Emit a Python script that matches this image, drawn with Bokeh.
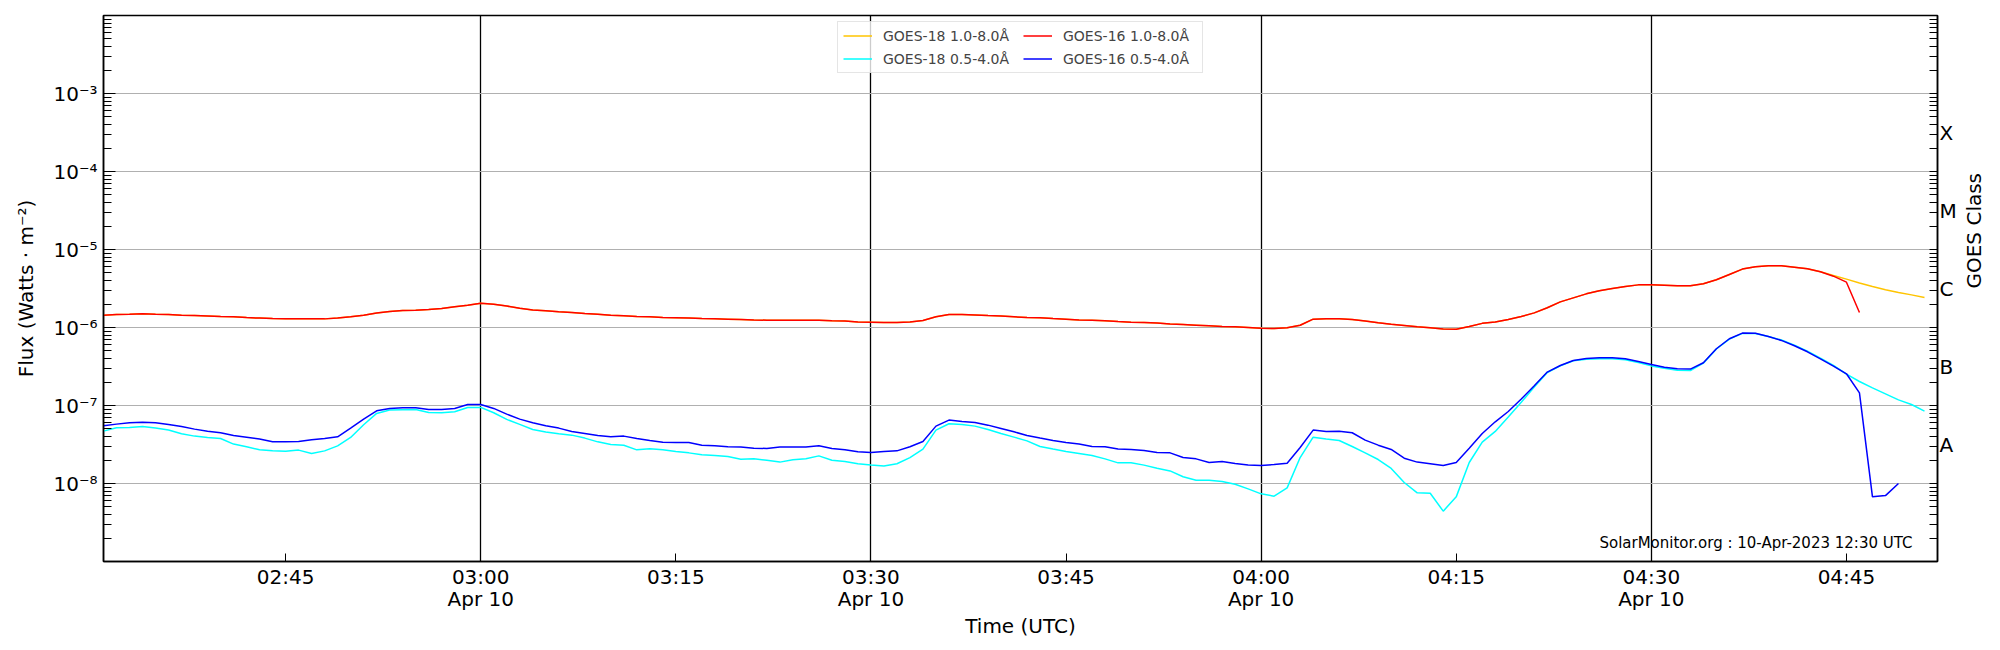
import math
import pandas as pd
from bokeh.plotting import figure
from bokeh.models import Range1d, FixedTicker, LogAxis, Legend, LegendItem, Label
from bokeh.embed import file_html
from bokeh.resources import INLINE

# ---------------- data (1-minute GOES XRS samples from 02:31 UTC) ----------------
start_time = "2023-04-10 02:31"

# GOES-16 1.0-8.0 A  (W m^-2)
goes16_long = [v * 1e-6 for v in [
    1.44, 1.47, 1.48, 1.50, 1.48, 1.47, 1.44, 1.42, 1.40, 1.38,
    1.37, 1.34, 1.32, 1.30, 1.29, 1.29, 1.29, 1.29, 1.32, 1.37,
    1.44, 1.53, 1.60, 1.65, 1.67, 1.70, 1.75, 1.84, 1.93, 2.05,
    1.99, 1.88, 1.77, 1.68, 1.64, 1.59, 1.56, 1.51, 1.48, 1.44,
    1.41, 1.38, 1.37, 1.34, 1.33, 1.32, 1.30, 1.29, 1.28, 1.27,
    1.25, 1.24, 1.24, 1.24, 1.24, 1.24, 1.22, 1.21, 1.18, 1.17,
    1.16, 1.16, 1.18, 1.23, 1.37, 1.47, 1.47, 1.45, 1.42, 1.40,
    1.37, 1.34, 1.33, 1.30, 1.28, 1.25, 1.24, 1.22, 1.19, 1.17,
    1.16, 1.14, 1.11, 1.09, 1.07, 1.05, 1.03, 1.02, 1.00, 0.98,
    0.97, 0.99, 1.07, 1.28, 1.29, 1.29, 1.27, 1.21, 1.15, 1.10,
    1.06, 1.02, 0.99, 0.96, 0.95, 1.03, 1.13, 1.18, 1.27, 1.38,
    1.54, 1.79, 2.13, 2.40, 2.70, 2.96, 3.16, 3.36, 3.52, 3.52,
    3.49, 3.42, 3.42, 3.63, 4.09, 4.79, 5.61, 6.00, 6.18, 6.18,
    5.94, 5.66, 5.18, 4.55, 3.81, 1.56]]

# GOES-18 1.0-8.0 A : identical to GOES-16 (hidden beneath it) until 04:43, then its own tail
goes18_long_tail = [4.64e-6, 4.17e-6, 3.73e-6, 3.36e-6, 3.04e-6, 2.81e-6, 2.62e-6, 2.43e-6]
goes18_long = goes16_long[:133] + goes18_long_tail

# GOES-16 0.5-4.0 A
goes16_short = [v * 1e-8 for v in [
    5.50, 5.77, 6.00, 6.12, 6.00, 5.72, 5.39, 4.98, 4.69, 4.47,
    4.13, 3.93, 3.71, 3.42, 3.42, 3.46, 3.63, 3.78, 3.97, 5.13,
    6.69, 8.56, 9.17, 9.35, 9.35, 8.91, 8.91, 9.17, 10.3, 10.3,
    9.17, 7.76, 6.69, 6.00, 5.50, 5.13, 4.65, 4.38, 4.13, 3.97,
    4.05, 3.78, 3.56, 3.39, 3.36, 3.36, 3.10, 3.04, 2.96, 2.93,
    2.84, 2.81, 2.93, 2.93, 2.93, 3.04, 2.81, 2.70, 2.55, 2.50,
    2.57, 2.62, 2.96, 3.46, 5.44, 6.50, 6.25, 6.06, 5.60, 5.08,
    4.60, 4.13, 3.82, 3.56, 3.36, 3.20, 2.98, 2.96, 2.76, 2.73,
    2.65, 2.50, 2.47, 2.15, 2.07, 1.86, 1.91, 1.81, 1.73, 1.70,
    1.75, 1.82, 2.90, 4.84, 4.65, 4.69, 4.47, 3.60, 3.10, 2.73,
    2.11, 1.88, 1.79, 1.70, 1.86, 2.84, 4.38, 6.18, 8.38, 12.1,
    17.9, 26.8, 32.6, 37.8, 40.1, 40.9, 40.9, 39.7, 36.7, 33.6,
    31.0, 29.6, 29.3, 35.3, 53.4, 71.7, 84.8, 84.4, 76.8, 68.3,
    58.3, 48.8, 39.7, 32.0, 25.5, 14.5, 0.674, 0.70, 1.00]]

# GOES-18 0.5-4.0 A
goes18_short = [v * 1e-8 for v in [
    4.69, 5.18, 5.23, 5.39, 5.13, 4.84, 4.34, 4.05, 3.89, 3.78,
    3.20, 2.96, 2.70, 2.62, 2.60, 2.68, 2.43, 2.62, 3.04, 3.89,
    5.66, 7.92, 8.73, 8.82, 8.91, 8.15, 8.07, 8.31, 9.45, 9.45,
    8.07, 6.63, 5.72, 4.93, 4.56, 4.34, 4.17, 3.82, 3.42, 3.16,
    3.10, 2.70, 2.78, 2.70, 2.57, 2.47, 2.33, 2.29, 2.22, 2.05,
    2.07, 1.99, 1.88, 2.01, 2.07, 2.26, 1.99, 1.91, 1.79, 1.73,
    1.68, 1.79, 2.15, 2.76, 4.84, 5.83, 5.72, 5.44, 4.93, 4.38,
    3.93, 3.52, 2.98, 2.76, 2.57, 2.43, 2.29, 2.07, 1.84, 1.84,
    1.72, 1.57, 1.45, 1.22, 1.10, 1.10, 1.06, 0.98, 0.854, 0.737,
    0.688, 0.88, 2.15, 3.93, 3.71, 3.56, 2.98, 2.47, 2.03, 1.56,
    1.03, 0.76, 0.75, 0.442, 0.674, 1.86, 3.39, 4.65, 7.10, 11.0,
    17.3, 26.5, 32.2, 37.4, 39.3, 39.7, 39.7, 38.6, 35.6, 32.2,
    30.1, 28.4, 28.1, 34.9, 53.0, 71.0, 84.0, 84.0, 76.8, 69.0,
    59.5, 49.8, 40.5, 32.6, 25.2, 20.3, 16.8, 14.1, 11.8, 10.3,
    8.48]]

x_start = "2023-04-10 02:31"
x_end = "2023-04-10 04:52"
y_start, y_end = 1e-9, 1e-2

x_tick_times = ["2023-04-10 02:45", "2023-04-10 03:00", "2023-04-10 03:15",
                "2023-04-10 03:30", "2023-04-10 03:45", "2023-04-10 04:00",
                "2023-04-10 04:15", "2023-04-10 04:30", "2023-04-10 04:45"]
x_tick_labels = ["02:45", "03:00\nApr 10", "03:15", "03:30\nApr 10", "03:45",
                 "04:00\nApr 10", "04:15", "04:30\nApr 10", "04:45"]
x_line_times = ["2023-04-10 03:00", "2023-04-10 03:30",
                "2023-04-10 04:00", "2023-04-10 04:30"]

y_ticks = [1e-8, 1e-7, 1e-6, 1e-5, 1e-4, 1e-3]
y_tick_labels = ["10\u207b\u2078", "10\u207b\u2077", "10\u207b\u2076",
                 "10\u207b\u2075", "10\u207b\u2074", "10\u207b\u00b3"]
y_minor_ticks = [m * 10.0 ** k for k in range(-9, -2) for m in range(2, 10)]

class_ticks = [3.162e-8, 3.162e-7, 3.162e-6, 3.162e-5, 3.162e-4]
class_labels = ["A", "B", "C", "M", "X"]

legend_labels = ["GOES-18 1.0-8.0\u00c5", "GOES-18 0.5-4.0\u00c5",
                 "GOES-16 1.0-8.0\u00c5", "GOES-16 0.5-4.0\u00c5"]
colors = ["#ffc400", "cyan", "red", "blue"]
stamp_text = "SolarMonitor.org : 10-Apr-2023 12:30 UTC"

# ---------------- figure ----------------
FONT = "DejaVu Sans"
W, H = 2000, 650
BL, BR, BT, BB = 103, 63, 15, 89
to_ms = lambda s: int(pd.Timestamp(s).value // 10**6)

p = figure(width=W, height=H, x_axis_type="datetime", y_axis_type="log",
           x_range=Range1d(to_ms(x_start), to_ms(x_end)),
           y_range=Range1d(y_start, y_end),
           output_backend="svg", toolbar_location=None,
           min_border_left=BL, min_border_right=BR, min_border_top=BT, min_border_bottom=BB)
p.outline_line_color = "black"
p.outline_line_width = 1.5
p.background_fill_color = "white"

t18 = pd.date_range(start_time, periods=len(goes18_short), freq="1min")
t16s = pd.date_range(start_time, periods=len(goes16_short), freq="1min")
t18l = pd.date_range(start_time, periods=len(goes18_long), freq="1min")
t16l = pd.date_range(start_time, periods=len(goes16_long), freq="1min")

r18l = p.line(t18l, goes18_long, line_color=colors[0], line_width=1.5)
r18s = p.line(t18, goes18_short, line_color=colors[1], line_width=1.5)
r16l = p.line(t16l, goes16_long, line_color=colors[2], line_width=1.5)
r16s = p.line(t16s, goes16_short, line_color=colors[3], line_width=1.5)

# x axis
xa = p.xaxis[0]
tick_ms = [to_ms(s) for s in x_tick_times]
xa.ticker = FixedTicker(ticks=tick_ms)
xa.major_label_overrides = dict(zip(tick_ms, x_tick_labels))
xa.major_tick_in = 8
xa.major_tick_out = 0
xa.minor_tick_in = 0
xa.minor_tick_out = 0
xa.major_label_standoff = 3
xa.major_label_text_line_height = 0.92
xa.axis_label = "Time (UTC)"
xa.axis_label_standoff = 0

# y axis
ya = p.yaxis[0]
ya.ticker = FixedTicker(ticks=y_ticks, minor_ticks=y_minor_ticks)
ya.major_label_overrides = dict(zip(y_ticks, y_tick_labels))
ya.major_tick_in = 12
ya.major_tick_out = 0
ya.minor_tick_in = 8
ya.minor_tick_out = 0
ya.major_label_standoff = 6
ya.axis_label = "Flux (Watts \u00b7 m\u207b\u00b2)"
ya.axis_label_standoff = 12

# right class axis
ra = LogAxis(ticker=FixedTicker(ticks=class_ticks, minor_ticks=y_minor_ticks + y_ticks),
             major_label_overrides=dict(zip(class_ticks, class_labels)))
ra.major_tick_in = 0
ra.major_tick_out = 0
ra.minor_tick_in = 8
ra.minor_tick_out = 0
ra.major_label_standoff = 2
ra.axis_label = "GOES Class"
ra.axis_label_standoff = 14
try:
    ra.axis_label_orientation = math.pi / 2
except Exception:
    pass
p.add_layout(ra, "right")

for ax in (xa, ya, ra):
    ax.axis_line_color = "black"
    ax.axis_line_width = 1.5
    ax.major_tick_line_color = "black"
    ax.minor_tick_line_color = "black"
    ax.major_label_text_font = FONT
    ax.major_label_text_font_size = "20px"
    ax.major_label_text_color = "black"
    ax.axis_label_text_font = FONT
    ax.axis_label_text_font_size = "20px"
    ax.axis_label_text_font_style = "normal"
    ax.axis_label_text_color = "black"

# grids
p.xgrid.ticker = FixedTicker(ticks=[to_ms(s) for s in x_line_times])
p.xgrid.grid_line_color = "black"
p.xgrid.grid_line_width = 1.3
p.ygrid.ticker = FixedTicker(ticks=y_ticks)
p.ygrid.grid_line_color = "#b0b0b0"
p.ygrid.grid_line_width = 1.2

# legend
legend = Legend(items=[LegendItem(label=legend_labels[0], renderers=[r18l]),
                       LegendItem(label=legend_labels[1], renderers=[r18s]),
                       LegendItem(label=legend_labels[2], renderers=[r16l]),
                       LegendItem(label=legend_labels[3], renderers=[r16s])],
                location="top_center", ncols=2)
legend.label_text_font = FONT
legend.label_text_font_size = "14px"
legend.glyph_width = 29
legend.glyph_height = 17
legend.label_standoff = 11
legend.label_width = 134
legend.label_height = 17
legend.spacing = 6
legend.padding = 5
legend.margin = 6
legend.border_line_color = "#cccccc"
legend.border_line_width = 1
legend.background_fill_alpha = 0.8
p.add_layout(legend)

# stamp
frame_w = W - BL - BR
p.add_layout(Label(x=frame_w - 25, y=19, x_units="screen", y_units="screen",
                   text=stamp_text, text_align="right", text_baseline="alphabetic",
                   text_font=FONT, text_font_size="15px", text_color="black"))

open("out.html", "w").write(file_html(p, INLINE))
